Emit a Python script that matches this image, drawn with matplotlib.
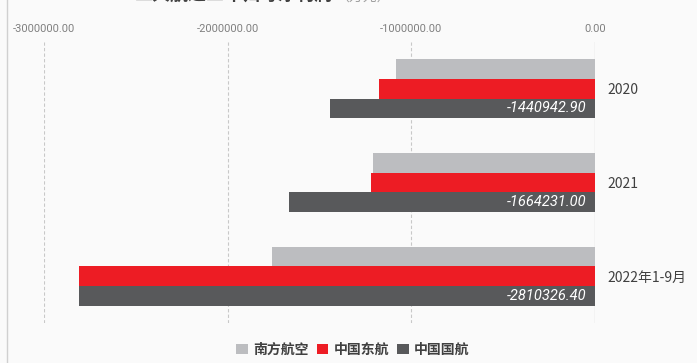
import matplotlib
matplotlib.use("Agg")
import matplotlib.pyplot as plt
from matplotlib.patches import Patch
from matplotlib.lines import Line2D
import numpy as np

plt.rcParams['font.family'] = ['Noto Sans CJK SC', 'DejaVu Sans']

categories = ["2020", "2021", "2022年1-9月"]
series_names = ["南方航空", "中国东航", "中国国航"]
southern = [-1084000.0, -1210000.0, -1759000.0]
eastern = [-1178000.0, -1221000.0, -2808000.0]
airchina = [-1440942.90, -1664231.00, -2810326.40]
ticks = [-3000000, -2000000, -1000000, 0]
tick_labels = ["-3000000.00", "-2000000.00", "-1000000.00", "0.00"]
colors = ["#BCBDC0", "#ED1C24", "#58595B"]

W, H = 697, 363
fig = plt.figure(figsize=(W / 100, H / 100), dpi=100)
fig.patch.set_facecolor("#FAFAFA")

# axes: x from 44 to 595 px, y from 42 to 323 px
ax = fig.add_axes([44 / W, 1 - 323 / H, (595 - 44) / W, (323 - 42) / H])
ax.set_facecolor("#FAFAFA")

y = np.arange(len(categories))
bh = 0.209
for i, (vals, c) in enumerate(zip([southern, eastern, airchina], colors)):
    ax.barh(y + (i - 1) * bh, vals, height=bh, color=c, label=series_names[i], zorder=3)

for yi, v in zip(y, airchina):
    ax.text(-45000, yi + bh, f"{v:.2f}", ha="right", va="center", color="white",
            fontsize=10.5, style="italic", family=["Roboto", "DejaVu Sans"], zorder=4)

ax.set_xlim(-3000000, 0)
ax.set_ylim(2.5, -0.5)
ax.set_xticks(ticks)
ax.set_xticklabels(tick_labels)
ax.xaxis.tick_top()
ax.tick_params(axis="x", length=0, labelsize=8, labelcolor="#808080", pad=6)
for lbl in ax.get_xticklabels():
    lbl.set_family(["Roboto", "DejaVu Sans"])
ax.set_yticks(y)
ax.set_yticklabels(categories)
ax.yaxis.tick_right()
ax.tick_params(axis="y", length=0, labelsize=10, labelcolor="#404040", pad=9)
for t in ticks[:-1]:
    ax.axvline(t, color="#C8C8C8", linestyle=(0, (3, 2)), linewidth=0.8, zorder=1)
ax.axvline(0, color="#C8C8C8", linewidth=0.9, zorder=1)
for s in ax.spines.values():
    s.set_visible(False)

# left frame line
fig.add_artist(Line2D([7 / W, 7 / W], [0, 1], color="#D0D0D0", linewidth=1))

# title (cropped at top in reference, only its lower edge shows)
t1 = fig.text(135 / W, 1 - 5 / H, "三大航近三年归母净利润", ha="left", va="bottom",
              fontsize=13, fontweight="bold", color="#404040")
fig.canvas.draw()
bb = t1.get_window_extent()
fig.text(bb.x1 / W + 0.004, 1 - 5 / H, "（万元）", ha="left", va="bottom",
         fontsize=10, color="#A0A0A0")

handles = [Patch(facecolor=c, edgecolor="none") for c in colors]
leg = fig.legend(handles, series_names, loc="center", bbox_to_anchor=(353 / W, 1 - 350 / H),
                 ncol=3, frameon=False, handlelength=0.8, handleheight=0.8, handletextpad=0.4,
                 columnspacing=0.6, prop={"size": 10, "weight": "bold"})
for t in leg.get_texts():
    t.set_color("#404040")

fig.savefig("out.png", dpi=100, facecolor=fig.get_facecolor())
